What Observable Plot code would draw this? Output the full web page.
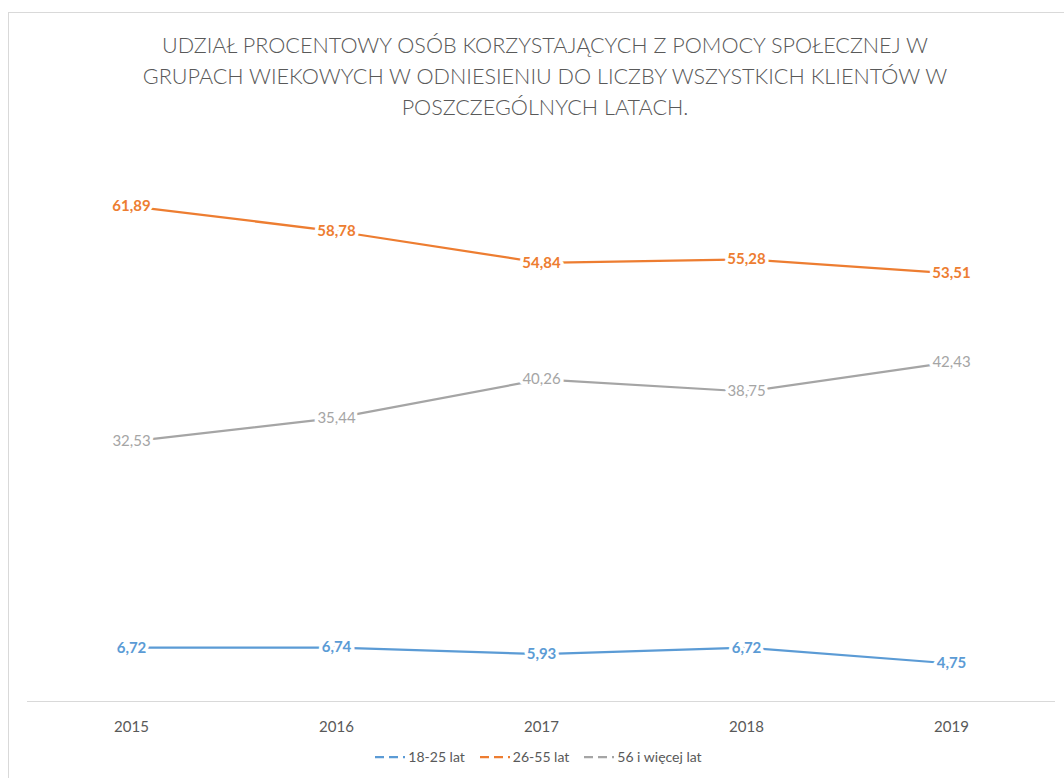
<!DOCTYPE html>
<html>
<head>
<meta charset="utf-8">
<script src="https://cdn.jsdelivr.net/npm/d3@7"></script>
<script src="https://cdn.jsdelivr.net/npm/@observablehq/plot@0.6"></script>
<style>
  html, body { margin: 0; padding: 0; background: #fff; width: 1064px; height: 778px; overflow: hidden; }
  body { position: relative; font-family: Lato, "Open Sans", sans-serif; }
  #frame { position: absolute; left: 8px; top: 12px; width: 1100px; height: 800px; border: 1px solid #d9d9d9; box-sizing: border-box; }
  #title { position: absolute; left: 0; width: 1090px; top: 30px; text-align: center; font-size: 21.6px; line-height: 31px; color: #595959; font-weight: 300; }
  #chart { position: absolute; left: 0; top: 120px; }
  #legend { position: absolute; left: 0; width: 1076px; top: 748px; display: flex; justify-content: center; gap: 14px; font-size: 14px; color: #595959; }
  #legend .item { display: flex; align-items: center; gap: 2px; }
</style>
</head>
<body>
<div id="frame"></div>
<div id="title">UDZIAŁ PROCENTOWY OSÓB KORZYSTAJĄCYCH Z POMOCY SPOŁECZNEJ W<br>GRUPACH WIEKOWYCH W ODNIESIENIU DO LICZBY WSZYSTKICH KLIENTÓW W<br>POSZCZEGÓLNYCH LATACH.</div>
<div id="chart"></div>
<div id="legend"></div>
<script>
const years = ["2015", "2016", "2017", "2018", "2019"];
const seriesNames = ["18-25 lat", "26-55 lat", "56 i więcej lat"];
const values18_25 = [6.72, 6.74, 5.93, 6.72, 4.75];
const values26_55 = [61.89, 58.78, 54.84, 55.28, 53.51];
const values56plus = [32.53, 35.44, 40.26, 38.75, 42.43];
const seriesColors = ["#5B9BD5", "#ED7D31", "#A5A5A5"];

const allValues = [values18_25, values26_55, values56plus];
const data = [];
seriesNames.forEach((s, i) => {
  years.forEach((y, j) => data.push({series: s, year: y, value: allValues[i][j]}));
});
const fmt = v => v.toFixed(2).replace(".", ",");
const boldData = data.filter(d => d.series !== "56 i więcej lat");
const normalData = data.filter(d => d.series === "56 i więcej lat");

const plot = Plot.plot({
  width: 1064,
  height: 630,
  marginLeft: 27,
  marginRight: 9,
  marginTop: 21,
  marginBottom: 49,
  style: {fontFamily: 'Lato, "Open Sans", sans-serif', background: "transparent"},
  x: {type: "point", domain: years, padding: 0.5, label: null, tickSize: 0, tickPadding: 20},
  y: {domain: [0, 70], axis: null},
  color: {domain: seriesNames, range: seriesColors},
  marks: [
    Plot.ruleY([0], {stroke: "#d9d9d9", strokeWidth: 1}),
    Plot.line(data, {x: "year", y: "value", z: "series", stroke: "series", strokeWidth: 2.25}),
    Plot.text(boldData, {x: "year", y: "value", text: d => fmt(d.value), fill: "series", stroke: "white", strokeWidth: 7, fontSize: 15, fontWeight: "bold"}),
    Plot.text(normalData, {x: "year", y: "value", text: d => fmt(d.value), fill: "series", stroke: "white", strokeWidth: 7, fontSize: 15}),
    Plot.axisX({tickSize: 0, tickPadding: 20, fontSize: 15, fontWeight: "normal", color: "#595959", label: null})
  ]
});
plot.querySelectorAll("g[aria-label='x-axis tick label']").forEach(e => { e.setAttribute("fill", "#595959"); });
document.getElementById("chart").appendChild(plot);

const legend = document.getElementById("legend");
seriesNames.forEach((s, i) => {
  const item = document.createElement("div");
  item.className = "item";
  item.innerHTML = `<svg width="32" height="10"><line x1="1" y1="5" x2="31" y2="5" stroke="${seriesColors[i]}" stroke-width="2.25" stroke-dasharray="9,5"/></svg><span>${s}</span>`;
  legend.appendChild(item);
});
</script>
</body>
</html>
